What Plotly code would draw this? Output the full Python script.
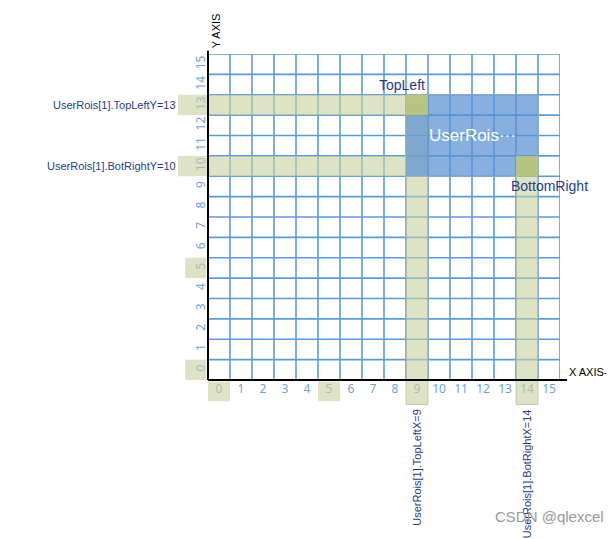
import plotly.graph_objects as go

cells = list(range(16))
top_left = (9, 13)
bot_right = (14, 10)
tick_highlight = [0, 5]
left_labels = ["UserRois[1].TopLeftY=13", "UserRois[1].BotRightY=10"]
bottom_labels = ["UserRois[1].TopLeftX=9", "UserRois[1].BotRightX=14"]

fig = go.Figure()
fig.add_trace(go.Scatter(x=[None], y=[None], showlegend=False))
shapes = []
grid = "#5b9bd5"
for v in range(17):
    p = v - 0.5
    shapes.append(dict(type="line", x0=p, x1=p, y0=-0.5, y1=15.5, line=dict(color=grid, width=1.6), layer="below"))
    shapes.append(dict(type="line", y0=p, y1=p, x0=-0.5, x1=15.5, line=dict(color=grid, width=1.6), layer="below"))

band = "rgba(200,208,160,0.6)"
corner = "rgba(190,198,120,0.9)"
# horizontal bands
for yv in (top_left[1], bot_right[1]):
    shapes.append(dict(type="rect", xref="paper", x0=-0.085, x1=(top_left[0] - 0 + 0.0) / 16.0 + 0.5 / 16 - 0.5 / 16 + 0.0, y0=yv - 0.5, y1=yv + 0.5,
                       fillcolor=band, line=dict(width=0)))
# vertical bands extending below axis
for xv, ytop in ((top_left[0], top_left[1]), (bot_right[0], bot_right[1])):
    shapes.append(dict(type="rect", yref="paper", x0=xv - 0.5, x1=xv + 0.5, y0=-0.075, y1=(ytop + 0.5) / 16.0,
                       fillcolor=band, line=dict(color="rgba(170,180,150,0.6)", width=1)))
# ROI
shapes.append(dict(type="rect", x0=top_left[0] - 0.5, x1=bot_right[0] + 0.5, y0=bot_right[1] - 0.5, y1=top_left[1] + 0.5,
                   fillcolor="rgba(90,145,210,0.72)", line=dict(color="rgba(170,180,190,0.8)", width=1)))
for xv, yv in (top_left, bot_right):
    shapes.append(dict(type="rect", x0=xv - 0.5, x1=xv + 0.5, y0=yv - 0.5, y1=yv + 0.5, fillcolor=corner, line=dict(width=0)))
# tick highlights
for t in tick_highlight:
    shapes.append(dict(type="rect", yref="paper", x0=t - 0.5, x1=t + 0.5, y0=-0.065, y1=-0.005, fillcolor=band, line=dict(width=0)))
    shapes.append(dict(type="rect", xref="paper", y0=t - 0.5, y1=t + 0.5, x0=-0.065, x1=-0.005, fillcolor=band, line=dict(width=0)))
# axes
shapes.append(dict(type="line", xref="paper", yref="paper", x0=0, x1=1.02, y0=0, y1=0, line=dict(color="black", width=2)))
shapes.append(dict(type="line", xref="paper", yref="paper", x0=0, x1=0, y0=0, y1=1.01, line=dict(color="black", width=2)))

ann = []
dark = "#1f3c88"
ann.append(dict(x=-0.085, xref="paper", y=top_left[1], text=left_labels[0], xanchor="right", showarrow=False, font=dict(color=dark, size=11)))
ann.append(dict(x=-0.085, xref="paper", y=bot_right[1], text=left_labels[1], xanchor="right", showarrow=False, font=dict(color=dark, size=11)))
ann.append(dict(x=top_left[0], y=-0.085, yref="paper", text=bottom_labels[0], textangle=-90, yanchor="top", showarrow=False, font=dict(color=dark, size=11)))
ann.append(dict(x=bot_right[0], y=-0.085, yref="paper", text=bottom_labels[1], textangle=-90, yanchor="top", showarrow=False, font=dict(color=dark, size=11)))
ann.append(dict(x=top_left[0] - 0.7, y=top_left[1] + 1.0, text="TopLeft", showarrow=False, font=dict(color=dark, size=14)))
ann.append(dict(x=11.5, y=11.5, text="UserRois···", showarrow=False, font=dict(color="white", size=17)))
ann.append(dict(x=bot_right[0] + 1.0, y=bot_right[1] - 1.0, text="BottomRight", showarrow=False, font=dict(color=dark, size=14)))
ann.append(dict(x=1.02, xref="paper", y=0, yref="paper", text="X AXIS-", xanchor="left", showarrow=False, font=dict(color="black", size=11)))
ann.append(dict(x=0, xref="paper", y=1.01, yref="paper", text="Y AXIS", textangle=-90, yanchor="bottom", xanchor="left", showarrow=False, font=dict(color="black", size=11)))
ann.append(dict(x=535, xref="paper", y=0, yref="paper", text="", showarrow=False))
ann.append(dict(x=1.13, xref="paper", y=-0.45, yref="paper", text="CSDN @qlexcel", xanchor="right", showarrow=False, font=dict(color="#999999", size=15)))

tickfont = dict(color="#6fa3d8", size=12, family="Noto Sans")
fig.update_layout(
    width=614, height=539, margin=dict(l=200, r=62, t=46, b=167),
    paper_bgcolor="white", plot_bgcolor="white",
    shapes=shapes, annotations=ann, font=dict(family="Liberation Sans"),
    xaxis=dict(range=[-0.5, 15.5], tickvals=cells, showgrid=False, zeroline=False, tickfont=tickfont, ticks=""),
    yaxis=dict(range=[-0.5, 15.5], tickvals=cells, showgrid=False, zeroline=False, tickfont=tickfont, ticks="", tickangle=-90),
)
fig.write_html("out.html")
